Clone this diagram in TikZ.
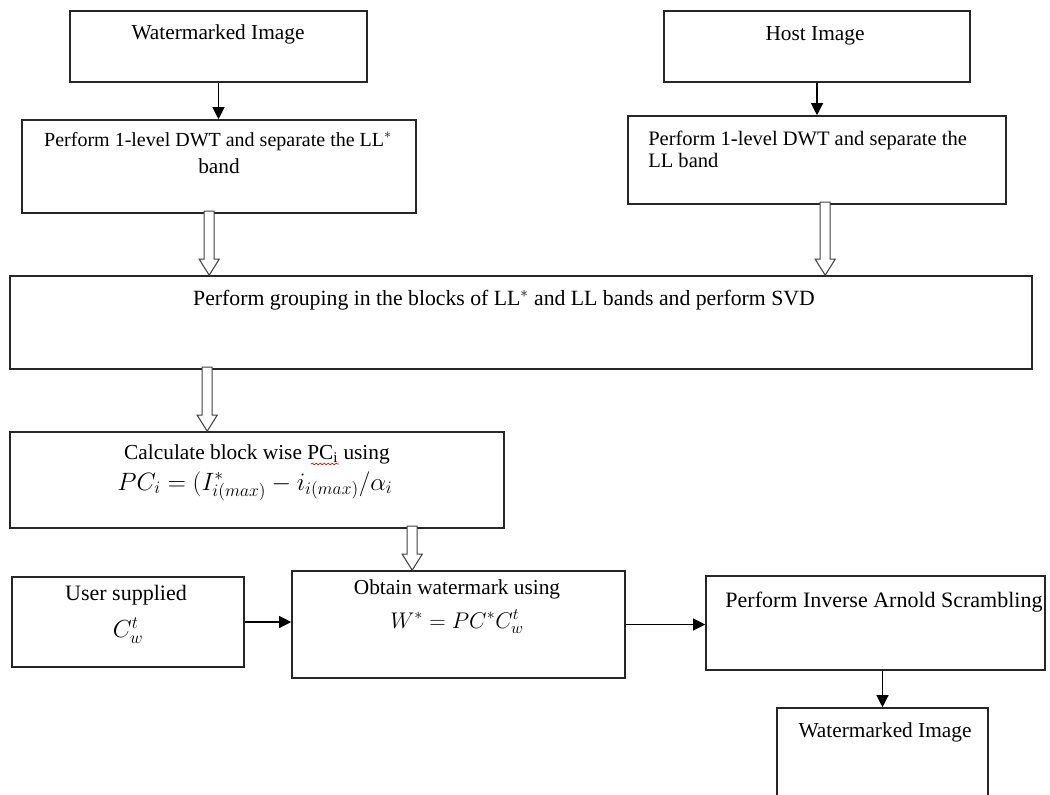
\RequirePackage{fix-cm}
\documentclass[tikz,border=0pt]{standalone}
\usepackage{fontspec}
\setmainfont{Liberation Serif}
\usetikzlibrary{arrows.meta,fit,calc,decorations.pathmorphing}

% vertical outlined (block) arrow from a start point down to a target point
\newcommand{\hollowarrow}[2]{%
  \draw[hollow] let \p1=(#1), \p2=(#2) in
    (\x1-3.75pt,\y1+2pt) -- (\x1-3.75pt,\y2+12pt) -- (\x1-7.5pt,\y2+12pt)
    -- (\x1,\y2) -- (\x1+7.5pt,\y2+12pt) -- (\x1+3.75pt,\y2+12pt)
    -- (\x1+3.75pt,\y1+2pt) -- cycle;}
\newcommand{\fs}[1]{\fontsize{#1}{1.2\dimexpr#1pt\relax}\selectfont}

\begin{document}
\begin{tikzpicture}[x=0.75pt,y=-0.75pt,
  box/.style={draw=black!85, line width=1.2pt, inner sep=0pt},
  txt/.style={inner sep=0pt, font=\fs{16}, anchor=base},
  eq/.style={inner sep=0pt, font=\fs{17}, anchor=base},
  arr/.style={draw=black, line width=0.9pt, -{Triangle[length=9pt,width=9pt]}},
  hollow/.style={draw=black!75, line width=0.8pt, fill=white},
  spell/.style={draw=red, line width=0.5pt,
    decorate, decoration={snake, amplitude=0.6pt, segment length=3pt}}]
\useasboundingbox (0,0) rectangle (1050,794);

% boxes
\node[box, fit={(70,11)(367,82)}]    (n1) {};
\node[box, fit={(22,120)(416,213)}]  (n2) {};
\node[box, fit={(664,11)(970,82)}]   (n3) {};
\node[box, fit={(628,116)(1006,204)}] (n4) {};
\node[box, fit={(10,276)(1032,369)}] (n5) {};
\node[box, fit={(10,432)(504,528)}]  (n6) {};
\node[box, fit={(292,571)(625,678)}] (n7) {};
\node[box, fit={(12,577)(244,667)}]  (n8) {};
\node[box, fit={(706,576)(1045,670)}] (n9) {};
\node[box, fit={(777,708)(988,805)}] (n10) {};

% labels
\node[txt] (t1) at (218,39) {Watermarked Image};
\node[txt, font=\fs{15}] (t2a) at (218,146) {Perform 1-level DWT and separate the LL$^{*}$};
\node[txt] (t2b) at (219,173) {band};
\node[txt] (t3) at (815,40) {Host Image};
\node[txt, font=\fs{15.4}, anchor=base west] (t4a) at (648,145) {Perform 1-level DWT and separate the};
\node[txt, font=\fs{15.4}, anchor=base west] (t4b) at (648,167) {LL band};
\node[txt, font=\fs{16.3}] (t5) at (504,305) {Perform grouping in the blocks of LL$^{*}$ and LL bands and perform SVD};
\node[txt] (t6a) at (257,459) {Calculate block wise PC\textsubscript{i} using};
\node[eq, font=\fs{18.8}] (t6b) at (255,490) {$PC_{i} = (I^{*}_{i(max)} - i_{i(max)}/\alpha_{i}$};
\node[txt] (t7a) at (457,594) {Obtain watermark using};
\node[eq]  (t7b) at (457,628) {$W^{*} = PC^{*}C^{t}_{w}$};
\node[txt, font=\fs{16.5}] (t8a) at (126,600) {User supplied};
\node[eq, font=\fs{18.5}] (t8b) at (128,637) {$C^{t}_{w}$};
\node[txt, font=\fs{16.5}] (t9) at (884,607) {Perform Inverse Arnold Scrambling};
\node[txt] (t10) at (885,737) {Watermarked Image};

% spell-check mark under PC_i
\draw[spell] (311,464) -- (339,464);

% thin arrows
\draw[arr] (n1.south) -- (n1.south |- n2.north);
\draw[arr] (n3.south) -- (n3.south |- n4.north);
\draw[arr] (n8.east) -- (n8.east -| n7.west);
\draw[arr] (n7.east) -- (n7.east -| n9.west);
\draw[arr] (n10.north |- n9.south) -- (n10.north);

% block arrows
\path (n2.south west) ++(188,0) coordinate (h1);
\path (n4.south west) ++(198,0) coordinate (h2);
\path (n5.south west) ++(198,0) coordinate (h3);
\path (n6.south west) ++(403,0) coordinate (h4);
\hollowarrow{h1}{h1 |- n5.north}
\hollowarrow{h2}{h2 |- n5.north}
\hollowarrow{h3}{h3 |- n6.north}
\hollowarrow{h4}{h4 |- n7.north}
\end{tikzpicture}
\end{document}
